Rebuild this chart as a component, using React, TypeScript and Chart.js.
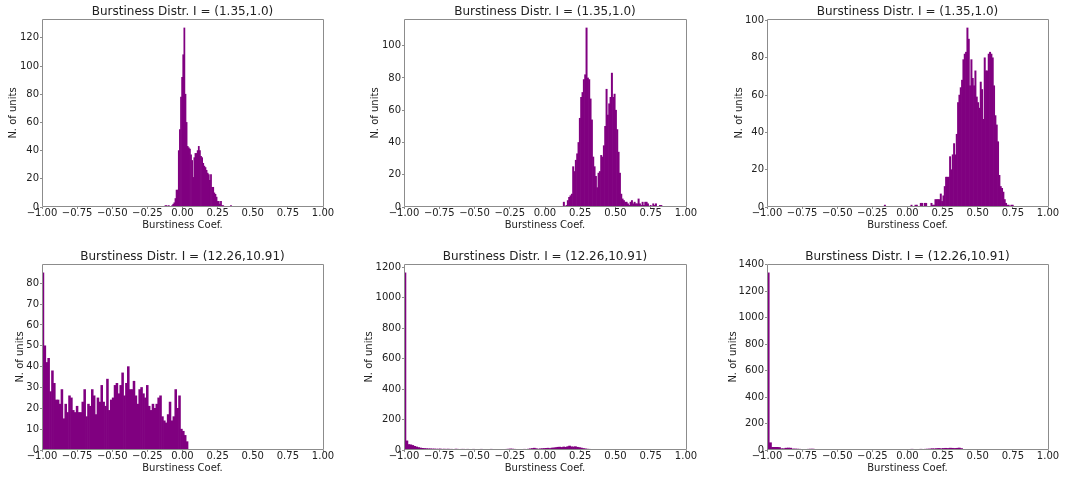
import React, { useEffect, useRef } from "react";
import { Chart, registerables } from "chart.js";

Chart.register(...registerables);

const FONT = "DejaVu Sans";
const TEXT = "#222222";
const FRAME = "#8c8c8c";
const BAR = "#800080";

const titleTop = "Burstiness Distr. I = (1.35,1.0)";
const titleBottom = "Burstiness Distr. I = (12.26,10.91)";
const xLabel = "Burstiness Coef.";
const yLabel = "N. of units";
const xTicks = [-1, -0.75, -0.5, -0.25, 0, 0.25, 0.5, 0.75, 1];

// Top-left histogram
const tlBinStart = -0.125;
const tlBinWidth = 0.0079;
const tlCounts = [
  1, 1, 0, 1, 0, 0, 1, 2, 3, 6,
  12, 12, 40, 55, 78, 92, 108, 127, 80, 60,
  43, 42, 41, 37, 33, 21, 35, 38, 38, 40,
  43, 40, 36, 35, 31, 29, 28, 26, 24, 23,
  19, 23, 14, 14, 10, 9, 7, 4, 4, 2,
  4, 1, 1, 0, 0, 0, 0, 0, 0, 1,
];
const tlYTicks = [0, 20, 40, 60, 80, 100, 120];

// Top-middle histogram
const tmBinStart = 0.129;
const tmBinWidth = 0.009466;
const tmCounts = [
  3, 0, 1, 4, 6, 7, 8, 25, 22, 29,
  33, 40, 55, 68, 71, 79, 82, 111, 80, 79,
  67, 54, 31, 25, 19, 12, 21, 22, 32, 31,
  38, 50, 73, 57, 64, 68, 83, 68, 70, 60,
  48, 34, 21, 8, 5, 4, 3, 3, 2, 1,
  3, 4, 2, 3, 2, 2, 5, 2, 1, 3,
  1, 3, 3, 2, 0, 1, 0, 2, 1, 2,
  0, 0, 1, 1,
];
const tmYTicks = [0, 20, 40, 60, 80, 100];

// Top-right histogram
const trBinStart = -0.1658;
const trBinWidth = 0.009477;
const trCounts = [
  1, 0, 0, 0, 0, 0, 0, 0, 0, 0,
  0, 0, 0, 0, 0, 0, 0, 0, 0, 0,
  1, 0, 0, 1, 1, 0, 0,
  2, 2, 0, 2, 2, 0, 0, 0, 2, 1,
  1, 4, 4, 4, 4, 7, 3, 6, 11, 16,
  16, 16, 27, 20, 28, 34, 28, 39, 56, 60,
  64, 68, 79, 82, 83, 96, 90, 65, 79, 69,
  65, 73, 59, 56, 53, 67, 63, 47, 80, 73,
  73, 82, 83, 82, 80, 65, 49, 44, 35, 17,
  11, 10, 8, 4, 2, 1, 1, 0, 1, 1,
];
const trYTicks = [0, 20, 40, 60, 80, 100];

// Bottom-left histogram
const blBinStart = -1.0;
const blBinWidth = 0.0135;
const blCounts = [
  85, 50, 42, 44, 28, 38, 32, 24, 24, 22,
  29, 15, 22, 18, 26, 25, 19, 18, 21, 18,
  18, 23, 29, 16, 22, 21, 29, 26, 17, 25,
  23, 31, 23, 21, 34, 19, 24, 25, 31, 32,
  27, 31, 37, 26, 32, 40, 29, 29, 33, 26,
  22, 29, 30, 27, 25, 31, 21, 19, 22, 20,
  22, 25, 26, 16, 14, 13, 17, 23, 14, 16,
  29, 20, 26, 10, 9, 7, 4,
];
const blYTicks = [0, 10, 20, 30, 40, 50, 60, 70, 80];

// Bottom-middle histogram
const bmBinStart = -1.0;
const bmBinWidth = 0.0139;
const bmCounts = [
  1164, 60, 36, 34, 30, 24, 20, 16, 13, 11,
  10, 9, 8, 8, 7, 7, 6, 6, 7, 5,
  6, 5, 6, 5, 5, 4, 6, 5, 4, 5,
  5, 4, 5, 4, 4, 5, 3, 4, 4, 5,
  3, 4, 3, 4, 5, 3, 4, 3, 4, 3,
  2, 4, 5, 6, 7, 6, 5, 4, 3, 4,
  3, 5, 4, 6, 8, 10, 12, 9, 6, 8,
  9, 10, 11, 12, 10, 13, 14, 16, 18, 19,
  17, 20, 18, 22, 26, 21, 20, 22, 18, 16,
  13, 10, 8, 6, 5, 4, 3, 2, 2, 1,
];
const bmYTicks = [0, 200, 400, 600, 800, 1000, 1200];

// Bottom-right histogram
const brBinStart = -1.0;
const brBinWidth = 0.016;
const brCounts = [
  1339, 55, 20, 20, 20, 19, 10, 10, 14, 15,
  14, 8, 8, 7, 6, 5, 5, 4, 6, 7,
  7, 5, 4, 3, 4, 5, 5, 4, 3, 3,
  2, 3, 4, 5, 4, 3, 2, 3, 2, 4,
  5, 4, 3, 2, 2, 3, 2, 4, 4, 3,
  2, 2, 2, 3, 2, 2, 2, 3, 3, 3,
  4, 3, 4, 5, 6, 5, 4, 5, 6, 5,
  6, 7, 8, 10, 9, 11, 12, 10, 12, 13,
  12, 14, 13, 12, 13, 15, 11, 4, 3, 3,
  2, 3, 2, 2, 1, 2, 1, 1, 1, 1,
];
const brYTicks = [0, 200, 400, 600, 800, 1000, 1200, 1400];

const RIGHT_PAD = 14;

type Spec = {
  counts: number[];
  binStart: number;
  binWidth: number;
  yTicks: number[];
  title: string;
  left: number;
  top: number;
  axisW: number;
  plotW: number;
  height: number;
};

const panels: Spec[] = [
  { counts: tlCounts, binStart: tlBinStart, binWidth: tlBinWidth, yTicks: tlYTicks, title: titleTop, left: 7, top: 0, axisW: 35, plotW: 281, height: 231 },
  { counts: tmCounts, binStart: tmBinStart, binWidth: tmBinWidth, yTicks: tmYTicks, title: titleTop, left: 369, top: 0, axisW: 35, plotW: 282, height: 231 },
  { counts: trCounts, binStart: trBinStart, binWidth: trBinWidth, yTicks: trYTicks, title: titleTop, left: 733, top: 0, axisW: 34, plotW: 281, height: 231 },
  { counts: blCounts, binStart: blBinStart, binWidth: blBinWidth, yTicks: blYTicks, title: titleBottom, left: 14, top: 245, axisW: 28, plotW: 281, height: 229 },
  { counts: bmCounts, binStart: bmBinStart, binWidth: bmBinWidth, yTicks: bmYTicks, title: titleBottom, left: 363, top: 245, axisW: 41, plotW: 282, height: 229 },
  { counts: brCounts, binStart: brBinStart, binWidth: brBinWidth, yTicks: brYTicks, title: titleBottom, left: 727, top: 245, axisW: 40, plotW: 281, height: 229 },
];

const framePlugin = {
  id: "frame",
  afterDatasetsDraw(chart: any) {
    const { ctx, chartArea } = chart;
    const { left, top, right, bottom } = chartArea;
    ctx.save();
    ctx.strokeStyle = FRAME;
    ctx.lineWidth = 1;
    ctx.beginPath();
    ctx.moveTo(left + 0.5, top + 0.5);
    ctx.lineTo(right + 0.5, top + 0.5);
    ctx.lineTo(right + 0.5, bottom - 0.5);
    ctx.lineTo(left + 0.5, bottom - 0.5);
    ctx.closePath();
    ctx.stroke();
    ctx.restore();
  },
};

function fmtX(v: number) {
  const s = Math.abs(v).toFixed(2);
  return v < -1e-9 ? "\u2212" + s : s;
}

function Panel({ spec }: { spec: Spec }) {
  const ref = useRef<HTMLCanvasElement>(null);
  const width = spec.axisW + spec.plotW + RIGHT_PAD;
  useEffect(() => {
    const canvas = ref.current;
    if (!canvas) return;
    const yMax = Math.max(...spec.counts) * 1.05;
    const data = spec.counts.map((c, i) => ({
      x: spec.binStart + (i + 0.5) * spec.binWidth,
      y: c,
    }));
    const chart = new Chart(canvas, {
      type: "bar",
      data: {
        datasets: [
          {
            data: data as any,
            backgroundColor: BAR,
            borderWidth: 0,
            barPercentage: 1,
            categoryPercentage: 1,
            grouped: false,
          } as any,
        ],
      },
      options: {
        animation: false,
        responsive: false,
        maintainAspectRatio: false,
        devicePixelRatio: 1,
        events: [],
        layout: { padding: { left: 0, right: RIGHT_PAD, top: 0, bottom: 0 } },
        plugins: {
          legend: { display: false },
          tooltip: { enabled: false },
          title: {
            display: true,
            text: spec.title,
            fullSize: false,
            color: TEXT,
            font: { family: FONT, size: 12, weight: "normal", lineHeight: "14px" } as any,
            padding: { top: 5, bottom: 0 },
          },
        },
        scales: {
          x: {
            type: "linear",
            min: xTicks[0],
            max: xTicks[xTicks.length - 1],
            offset: false,
            afterBuildTicks: (s: any) => {
              s.ticks = xTicks.map((v) => ({ value: v }));
            },
            ticks: {
              autoSkip: false,
              maxRotation: 0,
              minRotation: 0,
              padding: -1,
              color: TEXT,
              font: { family: FONT, size: 10, lineHeight: 1 },
              callback: (v: any) => fmtX(Number(v)),
            },
            grid: {
              display: true,
              drawOnChartArea: false,
              drawTicks: true,
              tickLength: 2,
              color: FRAME,
              offset: false,
            },
            border: { display: false },
            title: {
              display: true,
              text: xLabel,
              color: TEXT,
              font: { family: FONT, size: 10, lineHeight: "12px" } as any,
              padding: 0,
            },
            afterFit: (s: any) => {
              s.height = 24;
            },
          } as any,
          y: {
            type: "linear",
            min: 0,
            max: yMax,
            afterBuildTicks: (s: any) => {
              s.ticks = spec.yTicks.map((v) => ({ value: v }));
            },
            ticks: {
              padding: 1,
              color: TEXT,
              font: { family: FONT, size: 10 },
              callback: (v: any) => String(Math.round(Number(v))),
            },
            grid: {
              display: true,
              drawOnChartArea: false,
              drawTicks: true,
              tickLength: 2,
              color: FRAME,
            },
            border: { display: false },
            title: {
              display: true,
              text: yLabel,
              color: TEXT,
              font: { family: FONT, size: 10, lineHeight: "12px" } as any,
              padding: 0,
            },
            afterFit: (s: any) => {
              s.width = spec.axisW;
            },
          } as any,
        },
      },
      plugins: [framePlugin],
    });
    return () => chart.destroy();
  }, []);
  return (
    <canvas
      ref={ref}
      width={width}
      height={spec.height}
      style={{ position: "absolute", left: spec.left, top: spec.top, width, height: spec.height }}
    />
  );
}

export default function App() {
  return (
    <div style={{ position: "absolute", left: 0, top: 0, width: 1070, height: 479, background: "#ffffff" }}>
      {panels.map((p, i) => (
        <Panel key={i} spec={p} />
      ))}
    </div>
  );
}
